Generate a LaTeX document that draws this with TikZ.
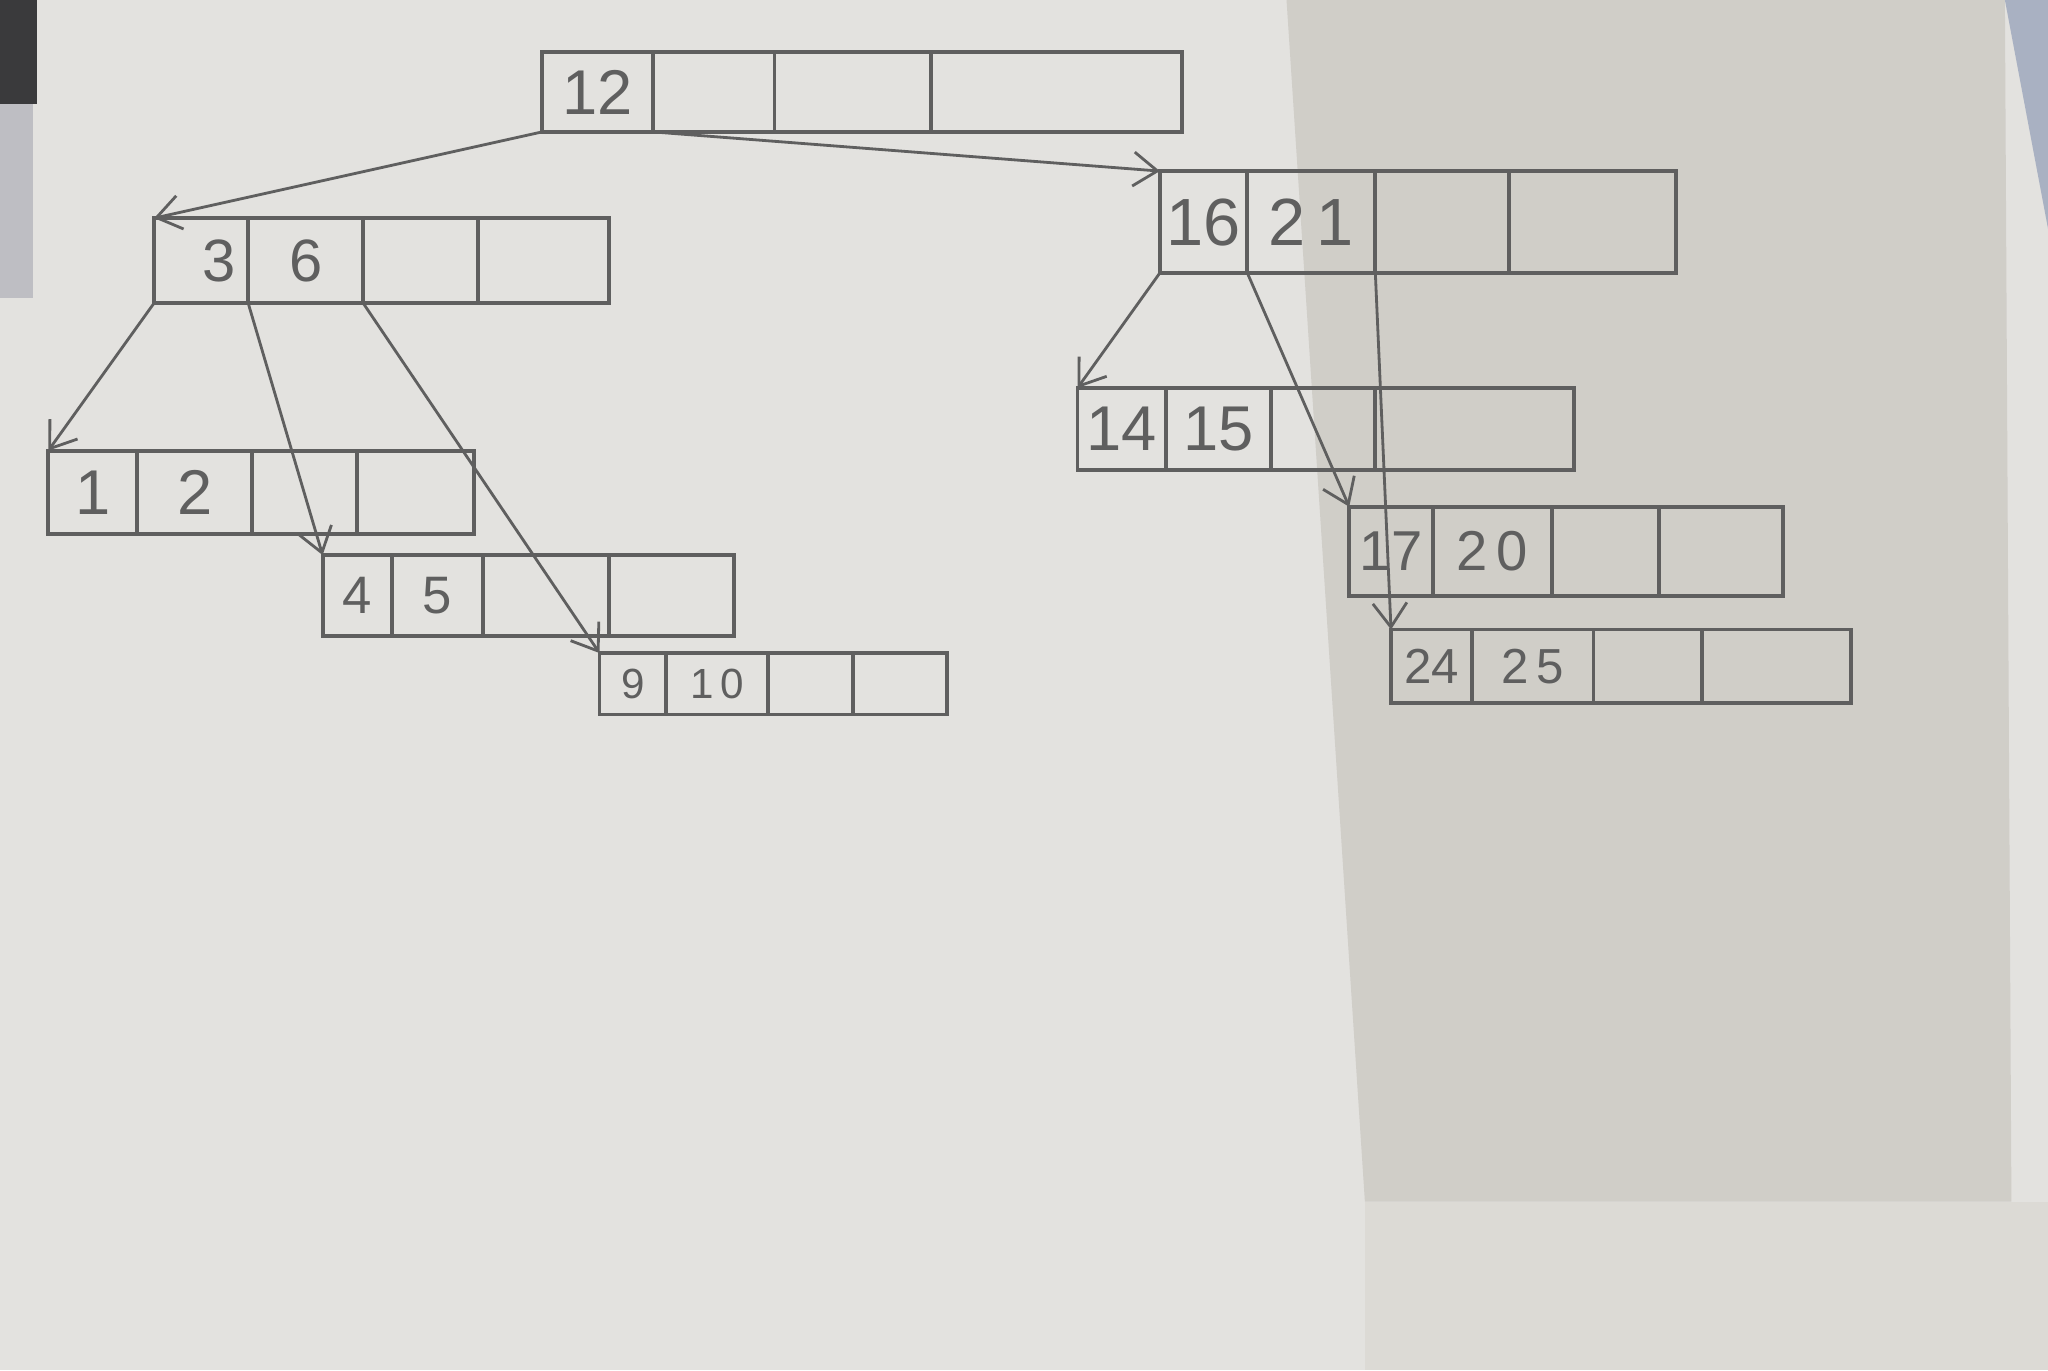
\documentclass[tikz,border=0pt]{standalone}
\usepackage{fontspec}
\setmainfont{Liberation Sans}
\usetikzlibrary{arrows.meta}
\newlength\ul
\setlength\ul{0.013061cm}
\definecolor{pencil}{HTML}{5F5F5F}
\definecolor{papercol}{HTML}{E3E2DF}
\definecolor{papershadow}{HTML}{D0CEC8}
\definecolor{paperlow}{HTML}{DCDAD5}
\definecolor{deskdark}{HTML}{3A3A3C}
\definecolor{desklight}{HTML}{BEBEC3}
\definecolor{clothcol}{HTML}{A9B1C2}
\tikzset{
  cell/.style={draw=pencil, line width=1.1pt, inner sep=0pt, outer sep=0pt, text=pencil},
  link/.style={draw=pencil, line width=0.8pt, -{Straight Barb[length=2.4mm,width=3.4mm]}},
}
% name, x0, x1, ytop, ybottom, text
\newcommand\bcell[6]{\node[cell, minimum width={(#3-#2)*\ul}, minimum height={(#5-#4)*\ul}] (#1) at ({(#2+#3)/2},{(#4+#5)/2}) {#6};}
\begin{document}
\begin{tikzpicture}[x=0.013061cm, y=-0.013061cm]
\useasboundingbox (0,0) rectangle (1568,1049);
% paper and photo background
\fill[papercol] (0,0) rectangle (1568,1049);
\fill[paperlow] (1045,920) rectangle (1568,1049);
\fill[papershadow] (985,0) -- (1535,0) -- (1540,920) -- (1045,920) -- cycle;
\fill[clothcol] (1535,0) -- (1568,0) -- (1568,175) -- cycle;
\fill[deskdark] (0,0) rectangle (28,80);
\fill[desklight] (0,80) rectangle (25,228);

% root
\begin{scope}[every node/.append style={font=\fontsize{18}{18}\selectfont}]
\bcell{r1}{415}{500}{40}{101}{12}
\bcell{r2}{500}{593}{40}{101}{}
\bcell{r3}{593}{713}{40}{101}{}
\bcell{r4}{713}{905}{40}{101}{}
\end{scope}

% 3 | 6
\begin{scope}[every node/.append style={font=\fontsize{17}{17}\selectfont}]
\bcell{a1}{118}{190}{167}{232}{\hspace*{0.6em}3}
\bcell{a2}{190}{278}{167}{232}{6}
\bcell{a3}{278}{366}{167}{232}{}
\bcell{a4}{366}{466}{167}{232}{}
\end{scope}

% 16 | 21
\begin{scope}[every node/.append style={font=\fontsize{19}{19}\selectfont}]
\bcell{b1}{888}{955}{131}{209}{16}
\bcell{b2}{955}{1053}{131}{209}{2\,1}
\bcell{b3}{1053}{1155}{131}{209}{}
\bcell{b4}{1155}{1283}{131}{209}{}
\end{scope}

% 1 | 2
\begin{scope}[every node/.append style={font=\fontsize{18}{18}\selectfont}]
\bcell{c1}{37}{105}{345}{409}{1}
\bcell{c2}{105}{193}{345}{409}{2}
\bcell{c3}{193}{273}{345}{409}{}
\bcell{c4}{273}{363}{345}{409}{}
\end{scope}

% 4 | 5
\begin{scope}[every node/.append style={font=\fontsize{15}{15}\selectfont}]
\bcell{d1}{247}{300}{425}{487}{4}
\bcell{d2}{300}{370}{425}{487}{5}
\bcell{d3}{370}{466}{425}{487}{}
\bcell{d4}{466}{562}{425}{487}{}
\end{scope}

% 9 | 10
\begin{scope}[every node/.append style={font=\fontsize{12}{12}\selectfont}]
\bcell{e1}{459}{510}{500}{547}{9}
\bcell{e2}{510}{588}{500}{547}{1\,0}
\bcell{e3}{588}{653}{500}{547}{}
\bcell{e4}{653}{725}{500}{547}{}
\end{scope}

% 14 | 15
\begin{scope}[every node/.append style={font=\fontsize{18}{18}\selectfont}]
\bcell{f1}{825}{893}{297}{360}{14}
\bcell{f2}{893}{973}{297}{360}{15}
\bcell{f3}{973}{1053}{297}{360}{}
\bcell{f4}{1053}{1205}{297}{360}{}
\end{scope}

% 17 | 20
\begin{scope}[every node/.append style={font=\fontsize{16}{16}\selectfont}]
\bcell{g1}{1033}{1097}{388}{456}{17}
\bcell{g2}{1097}{1188}{388}{456}{2\,0}
\bcell{g3}{1188}{1270}{388}{456}{}
\bcell{g4}{1270}{1365}{388}{456}{}
\end{scope}

% 24 | 25
\begin{scope}[every node/.append style={font=\fontsize{14}{14}\selectfont}]
\bcell{h1}{1065}{1127}{482}{538}{24}
\bcell{h2}{1127}{1220}{482}{538}{2\,5}
\bcell{h3}{1220}{1303}{482}{538}{}
\bcell{h4}{1303}{1417}{482}{538}{}
\end{scope}

% pointers
\draw[link] (r1.south west) -- (a1.north west);
\draw[link] (r2.south west) -- (b1.north west);
\draw[link] (a1.south west) -- (c1.north west);
\draw[link] (a2.south west) -- (d1.north west);
\draw[link] (a3.south west) -- (e1.north west);
\draw[link] (b1.south west) -- (f1.north west);
\draw[link] (b2.south west) -- (g1.north west);
\draw[link] (b3.south west) -- (h1.north west);
\end{tikzpicture}
\end{document}
